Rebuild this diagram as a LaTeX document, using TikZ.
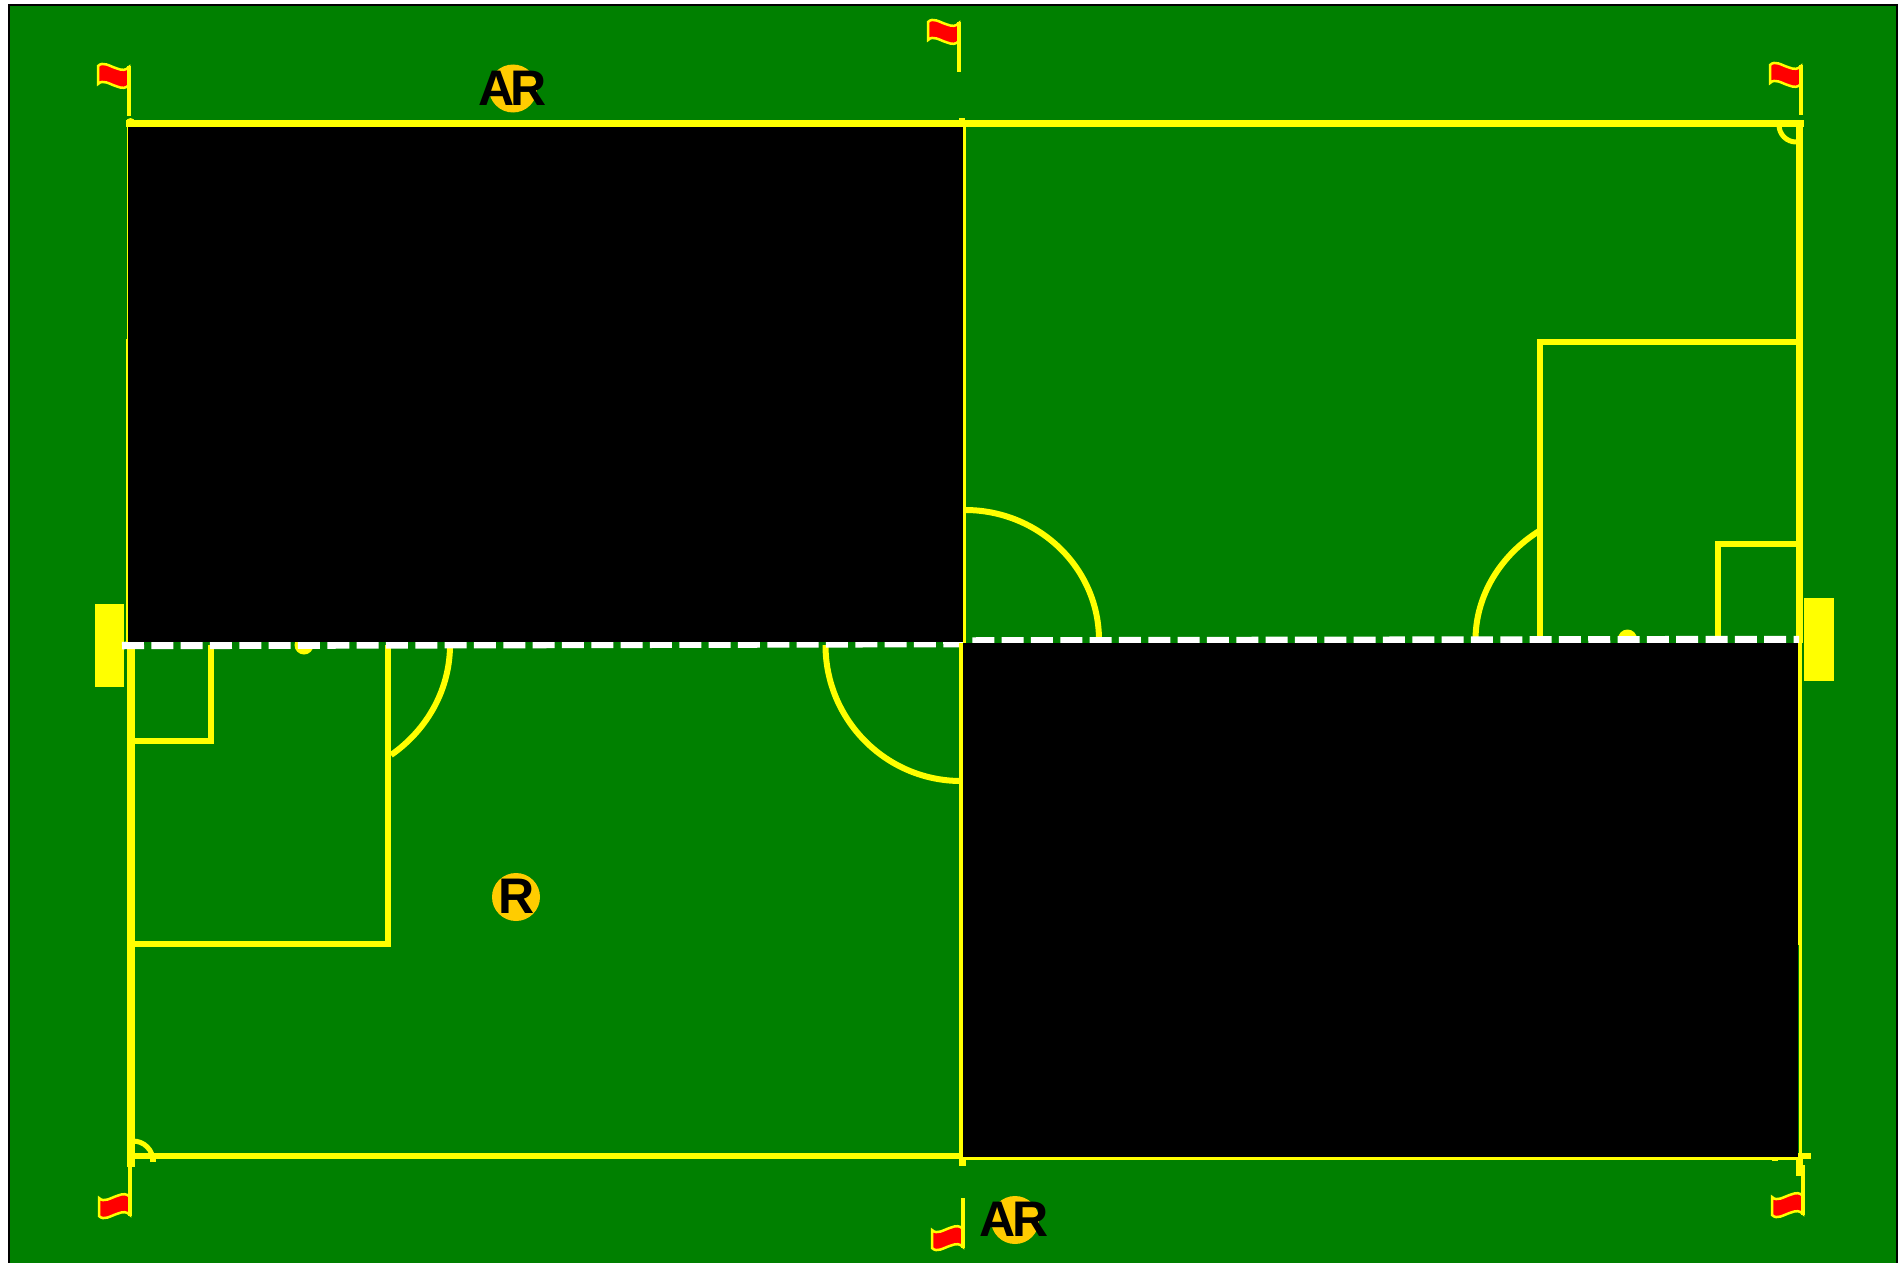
\documentclass[tikz,border=0pt]{standalone}
\usepackage{fontspec}
\setmainfont{Liberation Sans}
\usepackage{tikz}

\definecolor{pitch}{HTML}{008000}
\definecolor{line}{HTML}{FFFF00}
\definecolor{disc}{HTML}{FFCC00}

\begin{document}
\begin{tikzpicture}[x=1pt,y=-1pt,
		mark line/.style={draw=line,line width=6pt},
		side line/.style={draw=line,line width=7.5pt},
		half line/.style={draw=line,line width=4pt},
		thin line/.style={draw=line,line width=2pt},
		tick/.style={fill=line},
		mask/.style={fill=black},
		halfway/.style={draw=white,line width=7.5pt,dash pattern=on 22pt off 7.33pt},
		official/.style={fill=disc},
		badge/.style={inner sep=0pt,font=\fontsize{50}{50}\bfseries\selectfont},
		flag/.pic={
			\draw[line,line width=2.5pt,fill=red] (-31,-1) .. controls (-26,-6) and (-20,-1) .. (-12,1.5)
				.. controls (-7,3.5) and (-3,3.5) .. (0,0) -- (0,18)
				.. controls (-3,21.5) and (-7,21.5) .. (-12,19.5)
				.. controls (-20,17) and (-26,12) .. (-31,17) -- cycle;
			\draw[line,line width=4pt] (0,-0.5) -- (0,49);
		}]

	\useasboundingbox (0,0) rectangle (1898,1263);

	%%%%%%%%%%%%%%%%  ground  %%%%%%%%%%%%%%%%
	\fill[white] (0,0) rectangle (1898,1263);
	\fill[pitch] (8.7,5) rectangle (1897,1263);
	\draw[black,line width=2pt] (8.7,1263) -- (8.7,5) -- (1897,5) -- (1897,1263);

	%%%%%%%%%%%%%%%%  goals  %%%%%%%%%%%%%%%%
	\fill[tick] (95,604) rectangle (124.3,686.7);
	\fill[tick] (1804,598) rectangle (1834,680.7);

	%%%%%%%%%%%%%%%%  right half  %%%%%%%%%%%%%%%%
	\draw[mark line] (1800,342) -- (1540,342) -- (1540,640);
	\draw[mark line] (1800,544) -- (1717.5,544) -- (1717.5,640);
	\draw[mark line] (1475.5,640) arc[start angle=180,end angle=235,x radius=152,y radius=134];
	\draw[mark line] (1099,640) arc[start angle=0,end angle=-90,x radius=134,y radius=130];
	\fill[tick] (1627.5,639) circle (9.5);
	\draw[side line] (1799.5,127) -- (1799.5,643);
	\draw[line,line width=5pt] (1779,125) arc[start angle=180,end angle=90,radius=17];
	\fill[tick] (1796,120) rectangle (1804,127);

	%%%%%%%%%%%%%%%%  left half  %%%%%%%%%%%%%%%%
	\draw[mark line] (131,944) -- (388,944) -- (388,645);
	\draw[mark line] (131,741) -- (211,741) -- (211,645);
	\draw[mark line] (450,645) arc[start angle=0,end angle=53.4,x radius=146,y radius=137];
	\draw[mark line] (825.5,645) arc[start angle=180,end angle=90,x radius=135.5,y radius=136];
	\fill[tick] (304,645) circle (9.5);
	\draw[side line] (131,645) -- (131,1167);
	\draw[line,line width=5pt] (133,1141) arc[start angle=-90,end angle=0,radius=20];
	\fill[tick] (150,1156) rectangle (156,1162);

	%%%%%%%%%%%%%%%%  touch lines  %%%%%%%%%%%%%%%%
	\draw[side line] (126,123.5) -- (1804,123.5);
	\fill[tick] (130.5,122.5) circle (4.5);
	\fill[tick] (148,127) rectangle (156,128);
	\fill[tick] (959,118) rectangle (965,127);
	\draw[mark line,line width=6.5pt] (131,1156) -- (963,1156);

	%%%%%%%%%%%%%%%%  masked quarters  %%%%%%%%%%%%%%%%
	\draw[halfway] (122,645.5) -- (965,643.5);
	\draw[halfway] (972.3,641) -- (1799,639.5);
	\fill[mask] (128,127) rectangle (963,642);
	\fill[mask] (963,643) rectangle (1798,1157);
	\draw[line,line width=1pt] (127.5,127) -- (127.5,339);
	\draw[thin line] (127,339) -- (127,642);
	\draw[half line,line width=2.7pt] (964.4,127) -- (964.4,643);
	\draw[half line] (961.3,643) -- (961.3,1159);
	\fill[tick] (959,1159) rectangle (965.5,1166);
	\draw[line,line width=2.5pt] (963,1158.3) -- (1798,1158.3);
	\draw[half line] (1800.3,643) -- (1800.3,945);
	\draw[half line,line width=3.4pt] (1800.3,945) -- (1800.3,1159);
	\fill[tick] (1798,1153) rectangle (1811,1159);
	\fill[tick] (1772,1159) rectangle (1778,1161);
	\fill[tick] (1796,1159) rectangle (1803,1176);

	%%%%%%%%%%%%%%%%  flags  %%%%%%%%%%%%%%%%
	\pic at (129,67) {flag};
	\pic at (959,23) {flag};
	\pic at (1801,66) {flag};
	\pic[yscale=-1] at (130,1215) {flag};
	\pic[yscale=-1] at (963,1247) {flag};
	\pic[yscale=-1] at (1803,1214) {flag};

	%%%%%%%%%%%%%%%%  officials  %%%%%%%%%%%%%%%%
	\fill[official] (513,88.5) circle (24);
	\fill[official] (516,897) circle (24);
	\fill[official] (1015,1220) circle (24);
	\node[badge] (arTop) at (512.5,88.5) {A\kern-3.5pt R};
	\node[badge] (ref) at (517,896.5) {R};
	\node[badge] (arBottom) at (1014,1219.5) {A\kern-3.5pt R};
\end{tikzpicture}
\end{document}
